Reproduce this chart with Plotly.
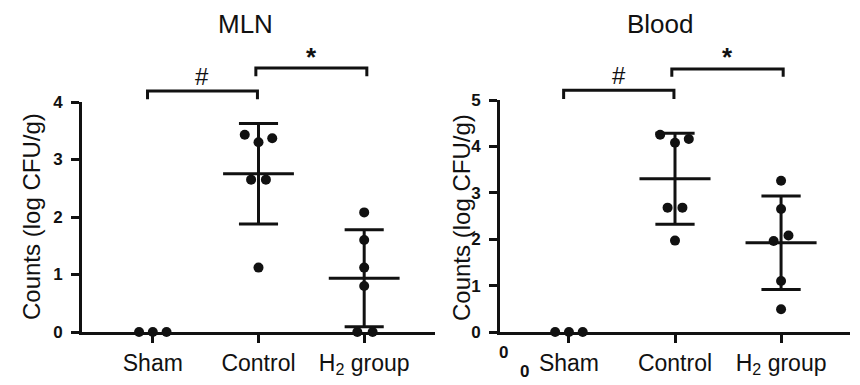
import numpy as np
import plotly.graph_objects as go

# page body has an 8px margin; figure fills the rest of the 860x385 window
OFF = 8
W, H = 860 - OFF, 385 - OFF

groups = ["Sham", "Control", "H<sub>2</sub> group"]

# MLN panel values (log CFU/g)
mln_sham = [0.0, 0.0, 0.0]
mln_control = [3.43, 3.30, 3.37, 2.65, 2.65, 1.12]
mln_h2 = [2.08, 1.60, 1.12, 0.80, 0.0, 0.0]

# Blood panel values (log CFU/g)
blood_sham = [0.0, 0.0, 0.0]
blood_control = [4.25, 4.08, 4.16, 2.68, 2.68, 1.97]
blood_h2 = [3.26, 2.65, 1.96, 2.08, 1.10, 0.49]

# horizontal spread of overlapping dots inside a group (category units)
mln_sham_dx = [-0.13, 0.0, 0.13]
mln_control_dx = [-0.13, 0.0, 0.13, -0.07, 0.07, 0.0]
mln_h2_dx = [0.0, 0.0, 0.0, 0.0, -0.065, 0.08]
blood_sham_dx = [-0.13, 0.0, 0.13]
blood_control_dx = [-0.14, 0.0, 0.13, -0.07, 0.07, 0.0]
blood_h2_dx = [0.0, 0.0, -0.07, 0.07, 0.0, 0.0]

mln_ticks = [0, 1, 2, 3, 4]
blood_ticks = [0, 1, 2, 3, 4, 5]

INK = "#111111"
FONT = "Liberation Sans, Arial, sans-serif"
LW = 3


def PX(x):
    return (x - OFF) / W


def PY(y):
    return 1 - (y - OFF) / H


AX = {
    "x": dict(domain=[PX(82), PX(435)], range=[-0.67, 2.67]),
    "y": dict(domain=[PY(332), PY(102)], range=[0, 4]),
    "x2": dict(domain=[PX(500), PX(850)], range=[-0.65, 2.65]),
    "y2": dict(domain=[PY(332), PY(100)], range=[0, 5]),
}


def to_paper(ax, v):
    d, r = AX[ax]["domain"], AX[ax]["range"]
    return d[0] + (v - r[0]) / (r[1] - r[0]) * (d[1] - d[0])


fig = go.Figure()


def add_panel(xa, ya, data, offsets, brackets):
    for gi, (vals, dx) in enumerate(zip(data, offsets)):
        vals = np.asarray(vals, dtype=float)
        xs = [gi + d for d in dx]
        fig.add_trace(go.Scatter(
            x=xs, y=vals, mode="markers", xaxis=xa, yaxis=ya,
            marker=dict(size=10, color=INK), cliponaxis=False,
            showlegend=False, hoverinfo="y"))
        if np.all(vals == 0):
            continue
        m = vals.mean()
        s = vals.std(ddof=1)
        lx, ly = [], []
        lx += [gi, gi, None]
        ly += [m - s, m + s, None]
        for yy in (m - s, m + s):
            lx += [gi - 0.185, gi + 0.185, None]
            ly += [yy, yy, None]
        lx += [gi - 0.335, gi + 0.335, None]
        ly += [m, m, None]
        fig.add_trace(go.Scatter(
            x=lx, y=ly, mode="lines", xaxis=xa, yaxis=ya,
            line=dict(color=INK, width=LW), cliponaxis=False,
            showlegend=False, hoverinfo="skip"))
    for (x0, x1, ytop, ybot, sym, sy, fs) in brackets:
        px0, px1 = to_paper(xa, x0), to_paper(xa, x1)
        pyt, pyb = to_paper(ya, ytop), to_paper(ya, ybot)
        fig.add_shape(type="path", xref="paper", yref="paper",
                      path=f"M{px0},{pyb} L{px0},{pyt} L{px1},{pyt} L{px1},{pyb}",
                      line=dict(color=INK, width=LW))
        fig.add_annotation(x=(px0 + px1) / 2, y=to_paper(ya, sy), xref="paper",
                           yref="paper", text=sym, showarrow=False,
                           xanchor="center", yanchor="middle",
                           font=dict(size=fs, color=INK, family=FONT))


add_panel("x", "y", [mln_sham, mln_control, mln_h2],
          [mln_sham_dx, mln_control_dx, mln_h2_dx],
          [(-0.05, 0.99, 4.19, 4.05, "#", 4.45, 24),
           (0.975, 2.025, 4.59, 4.45, "<b>*</b>", 4.78, 26)])
add_panel("x2", "y2", [blood_sham, blood_control, blood_h2],
          [blood_sham_dx, blood_control_dx, blood_h2_dx],
          [(-0.05, 0.99, 5.21, 5.02, "#", 5.53, 24),
           (0.97, 2.02, 5.67, 5.50, "<b>*</b>", 5.93, 26)])

xcommon = dict(tickmode="array", tickvals=[0, 1, 2], ticktext=groups,
               showline=True, linewidth=LW, linecolor=INK, ticks="outside",
               ticklen=8, tickwidth=LW, tickcolor=INK, showgrid=False,
               zeroline=False, automargin=False,
               tickfont=dict(size=23, color=INK, family=FONT), fixedrange=True)
ycommon = dict(showline=True, linewidth=LW, linecolor=INK, ticks="outside",
               ticklen=8, tickwidth=LW, tickcolor=INK, showgrid=False,
               zeroline=False, automargin=False, ticklabelstandoff=5,
               tickmode="array",
               tickfont=dict(size=17, color=INK, family=FONT),
               fixedrange=True)

fig.update_layout(
    template="none",
    width=W, height=H, margin=dict(l=0, r=0, t=0, b=0, pad=0),
    paper_bgcolor="white", plot_bgcolor="white",
    font=dict(family=FONT, color=INK),
    xaxis=dict(xcommon, **AX["x"], anchor="y"),
    yaxis=dict(ycommon, **AX["y"], tickvals=mln_ticks,
               ticktext=[f"<b>{t}</b>" for t in mln_ticks], anchor="x"),
    xaxis2=dict(xcommon, **AX["x2"], anchor="y2"),
    yaxis2=dict(ycommon, **AX["y2"], tickvals=blood_ticks,
                ticktext=[f"<b>{t}</b>" for t in blood_ticks], anchor="x2"),
    showlegend=False,
)

# panel titles
for txt, px in (("MLN", 246), ("Blood", 660)):
    fig.add_annotation(x=PX(px), y=PY(24), xref="paper", yref="paper",
                       text=txt, showarrow=False, xanchor="center", yanchor="middle",
                       font=dict(size=26, color=INK, family=FONT))

# y-axis titles
for px in (31, 461):
    fig.add_annotation(x=PX(px), y=PY(217), xref="paper", yref="paper",
                       text="Counts (log CFU/g)", textangle=-90, showarrow=False,
                       xanchor="center", yanchor="middle",
                       font=dict(size=24, color=INK, family=FONT))

# stray zero labels in the right panel
for px, py in ((503, 352), (524, 371)):
    fig.add_annotation(x=PX(px), y=PY(py), xref="paper", yref="paper",
                       text="<b>0</b>", showarrow=False,
                       xanchor="center", yanchor="middle",
                       font=dict(size=17, color=INK, family=FONT))

fig.write_html("out.html")
